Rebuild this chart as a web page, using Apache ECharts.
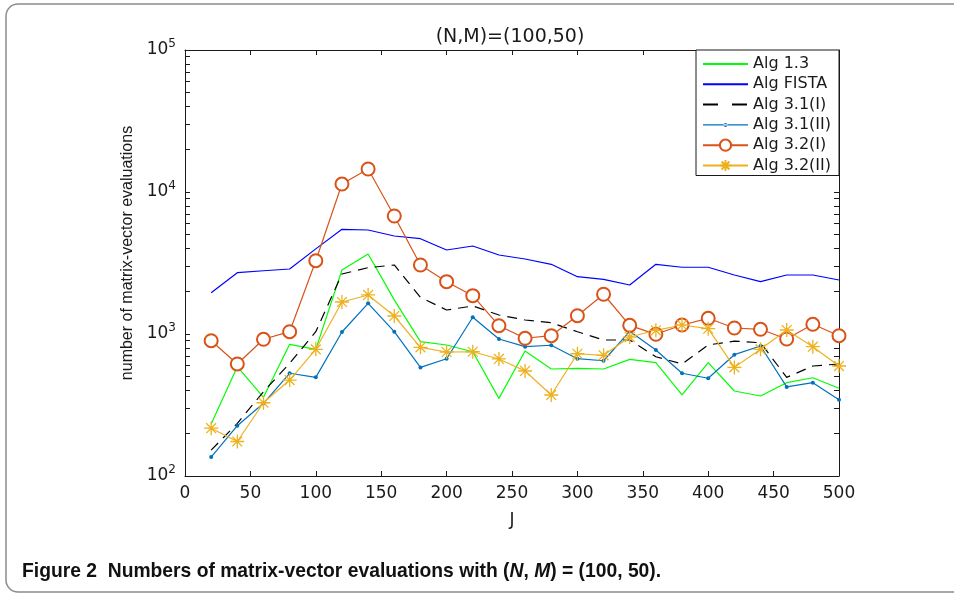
<!DOCTYPE html>
<html>
<head>
<meta charset="utf-8">
<title>Numbers of matrix-vector evaluations</title>
<script src="https://cdn.jsdelivr.net/npm/echarts@6/dist/echarts.min.js"></script>
<style>
  html, body { margin: 0; padding: 0; background: #fff; }
  #chart { width: 954px; height: 596px; }
</style>
</head>
<body>
<div id="chart"></div>
<script>
  // x values (J)
  const jValues = [20, 40, 60, 80, 100, 120, 140, 160, 180, 200, 220, 240, 260,
    280, 300, 320, 340, 360, 380, 400, 420, 440, 460, 480, 500]

  // number of matrix-vector evaluations
  const alg13 = [232, 589, 358, 846, 780, 2824, 3659, 1740, 883, 837, 750, 352, 759,
    567, 573, 567, 663, 628, 372, 628, 397, 366, 454, 492, 415]
  const algFista = [1954, 2702, 2790, 2870, 3975, 5460, 5400, 4898, 4690, 3905, 4168, 3600, 3375,
    3096, 2533, 2427, 2213, 3096, 2951, 2951, 2603, 2336, 2603, 2603, 2399]
  const alg31I = [152, 235, 392, 622, 1038, 2646, 2931, 3062, 1813, 1476, 1575, 1361, 1255,
    1201, 1038, 907, 907, 692, 615, 837, 891, 868, 495, 595, 615]
  const alg31II = [136, 226, 325, 529, 495, 1033, 1645, 1038, 582, 670, 1311, 922, 814,
    833, 670, 648, 1045, 771, 529, 488, 715, 823, 424, 454, 345]
  const alg32I = [897, 615, 918, 1038, 3281, 11380, 14520, 6776, 3062, 2336, 1862, 1144, 933,
    973, 1345, 1905, 1151, 995, 1157, 1290, 1102, 1079, 922, 1170, 973]
  const alg32II = [217, 175, 328, 474, 780, 1680, 1883, 1339, 806, 747, 750, 667, 549,
    372, 726, 708, 952, 1062, 1157, 1090, 582, 780, 1067, 814, 595]

  // axis ticks
  const xTicks = [0, 50, 100, 150, 200, 250, 300, 350, 400, 450, 500]
  const yLabelTicks = [100, 1000, 10000, 100000]
  const yTicks = [100, 200, 300, 400, 500, 600, 700, 800, 900,
    1000, 2000, 3000, 4000, 5000, 6000, 7000, 8000, 9000,
    10000, 20000, 30000, 40000, 50000, 60000, 70000, 80000, 90000, 100000]

  const FONT = 'DejaVu Sans'
  const INK = '#1a1a1a'
  const STAR = 'path://M0,5L10,5M5,0L5,10M1.5,1.5L8.5,8.5M1.5,8.5L8.5,1.5'
  // legend icon for the dotted-marker series: a line with a small dot
  const DOT_LINE = 'path://M0,6.4H45V7.6H0Z M20.5,7a2,2 0 1,0 4,0a2,2 0 1,0 -4,0Z'
  const TICK_LEN = 5

  function pairs (vals) {
    return jValues.map((j, i) => [j, vals[i]])
  }

  function xAxisBase (pos) {
    return {
      type: 'value',
      position: pos,
      min: 0,
      max: 500,
      interval: 50,
      axisLine: { show: true, onZero: false, lineStyle: { color: INK, width: 1 } },
      axisTick: { show: true, inside: true, length: TICK_LEN, lineStyle: { color: INK } },
      splitLine: { show: false }
    }
  }

  function yAxisBase (pos) {
    return {
      type: 'log',
      logBase: 10,
      position: pos,
      min: 100,
      max: 100000,
      // onZero off, otherwise the right axis snaps to J = 0 of the top x axis
      axisLine: { show: true, onZero: false, lineStyle: { color: INK, width: 1 } },
      axisTick: { show: true, inside: true, length: TICK_LEN, customValues: yTicks, lineStyle: { color: INK } },
      minorTick: { show: false },
      splitLine: { show: false }
    }
  }

  const chart = echarts.init(document.getElementById('chart'))

  const xBottom = xAxisBase('bottom')
  xBottom.axisLabel = {
    color: INK, fontFamily: FONT, fontSize: 17, margin: 9,
    customValues: xTicks
  }
  xBottom.name = 'J'
  xBottom.nameLocation = 'middle'
  xBottom.nameGap = 36
  xBottom.nameTextStyle = { color: INK, fontFamily: FONT, fontSize: 17 }

  const xTop = xAxisBase('top')
  xTop.axisLabel = { show: false }

  const yLeft = yAxisBase('left')
  yLeft.axisLabel = {
    margin: 9,
    customValues: yLabelTicks,
    formatter: function (v) {
      return '{b|10}{s|' + Math.round(Math.log10(v)) + '}'
    },
    rich: {
      b: { color: INK, fontFamily: FONT, fontSize: 17 },
      s: { color: INK, fontFamily: FONT, fontSize: 12, padding: [0, 0, 12, 0] }
    }
  }

  const yRight = yAxisBase('right')
  yRight.axisLabel = { show: false }

  const hideSymbol = { opacity: 0 }

  chart.setOption({
    animation: false,
    grid: { left: 185, top: 50, width: 654, height: 426 },
    xAxis: [xBottom, xTop],
    yAxis: [yLeft, yRight],
    legend: {
      orient: 'vertical',
      left: 696,
      top: 50,
      padding: [5, 8, 1, 6],
      itemWidth: 45,
      itemHeight: 14,
      itemGap: 2.3,
      backgroundColor: '#fff',
      borderColor: INK,
      borderWidth: 1,
      borderRadius: 0,
      textStyle: { color: INK, fontFamily: FONT, fontSize: 16, lineHeight: 18 },
      data: [
        { name: 'Alg 1.3', itemStyle: hideSymbol },
        { name: 'Alg FISTA', itemStyle: hideSymbol },
        { name: 'Alg 3.1(I)', itemStyle: hideSymbol, lineStyle: { type: [15, 14] } },
        { name: 'Alg 3.1(II)', icon: DOT_LINE },
        'Alg 3.2(I)',
        'Alg 3.2(II)'
      ]
    },
    graphic: [
      {
        type: 'rect',
        shape: { x: 6, y: 4, width: 1000, height: 588, r: 12 },
        style: { fill: 'none', stroke: '#8c8c8c', lineWidth: 1.5 },
        silent: true
      },
      {
        type: 'text',
        style: {
          text: '(N,M)=(100,50)', x: 510, y: 37, align: 'center', verticalAlign: 'middle',
          fill: INK, font: '19px "DejaVu Sans"'
        }
      },
      {
        type: 'text',
        rotation: Math.PI / 2,
        x: 128,
        y: 253,
        style: {
          text: 'number of matrix-vector evaluations', align: 'center', verticalAlign: 'middle',
          fill: INK, font: '16px "Liberation Sans"'
        }
      },
      {
        type: 'text',
        x: 22,
        y: 572,
        style: {
          text: '{b|Figure 2  Numbers of matrix-vector evaluations with (}{i|N}{b|, }{i|M}{b|) = (100, 50).}',
          verticalAlign: 'middle',
          rich: {
            b: { fill: '#111', fontFamily: 'Liberation Sans', fontWeight: 'bold', fontSize: 19.3 },
            i: { fill: '#111', fontFamily: 'Liberation Sans', fontWeight: 'bold', fontStyle: 'italic', fontSize: 19.3 }
          }
        }
      }
    ],
    series: [
      {
        name: 'Alg 1.3', type: 'line', data: pairs(alg13),
        color: '#00ff00', symbol: 'none', lineStyle: { width: 1.2 }
      },
      {
        name: 'Alg FISTA', type: 'line', data: pairs(algFista),
        color: '#0000ff', symbol: 'none', lineStyle: { width: 1.2 }
      },
      {
        name: 'Alg 3.1(I)', type: 'line', data: pairs(alg31I),
        color: '#000000', symbol: 'none', lineStyle: { width: 1.2, type: [10, 7] }
      },
      {
        name: 'Alg 3.1(II)', type: 'line', data: pairs(alg31II),
        color: '#0072bd', symbol: 'circle', symbolSize: 4, lineStyle: { width: 1.2 }
      },
      {
        name: 'Alg 3.2(I)', type: 'line', data: pairs(alg32I),
        color: '#d95319', symbol: 'emptyCircle', symbolSize: 13,
        itemStyle: { borderWidth: 1.3 }, lineStyle: { width: 1.2 }
      },
      {
        name: 'Alg 3.2(II)', type: 'line', data: pairs(alg32II),
        color: '#edb120', symbol: STAR, symbolSize: 14,
        itemStyle: { borderColor: '#edb120', borderWidth: 1.3 }, lineStyle: { width: 1.2 }
      }
    ]
  })
</script>
</body>
</html>
